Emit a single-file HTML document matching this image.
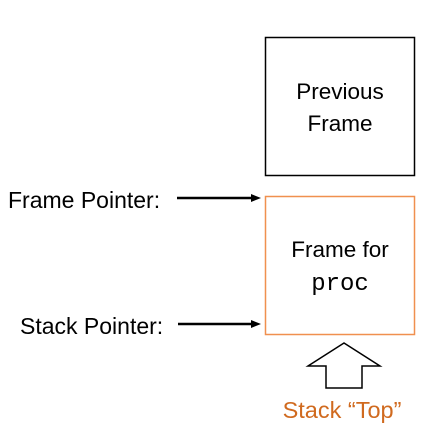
<!DOCTYPE html>
<html><head><style>
html,body{margin:0;padding:0;background:#fff;}
svg{display:block;font-family:"Liberation Sans",sans-serif;}
</style></head><body>
<svg width="433" height="435" viewBox="0 0 433 435">
<rect x="265.5" y="37.5" width="149" height="138" fill="none" stroke="#000" stroke-width="1.5"/>
<text x="340" y="99" font-size="22.5" text-anchor="middle">Previous</text>
<text x="340" y="131" font-size="22.5" text-anchor="middle">Frame</text>
<rect x="265.5" y="196.5" width="149" height="138" fill="none" stroke="#f0904f" stroke-width="1.5"/>
<text x="340" y="257" font-size="22.5" text-anchor="middle">Frame for</text>
<text x="340" y="290" font-size="24" text-anchor="middle" font-family="Liberation Mono,monospace">proc</text>
<text x="8" y="208" font-size="23">Frame Pointer:</text>
<text x="20" y="334" font-size="23">Stack Pointer:</text>
<line x1="177" y1="198" x2="252" y2="198" stroke="#000" stroke-width="2.5"/>
<polygon points="251,194 261,198 251,202" fill="#000"/>
<line x1="178" y1="324" x2="252" y2="324" stroke="#000" stroke-width="2.5"/>
<polygon points="251,320 261,324 251,328" fill="#000"/>
<polygon points="344,343 380,366 362,366 362,388 326,388 326,366 308,366" fill="#fff" stroke="#000" stroke-width="1.5"/>
<text x="342" y="418" font-size="23.5" fill="#d06a1f" text-anchor="middle">Stack “Top”</text>
</svg>
</body></html>
